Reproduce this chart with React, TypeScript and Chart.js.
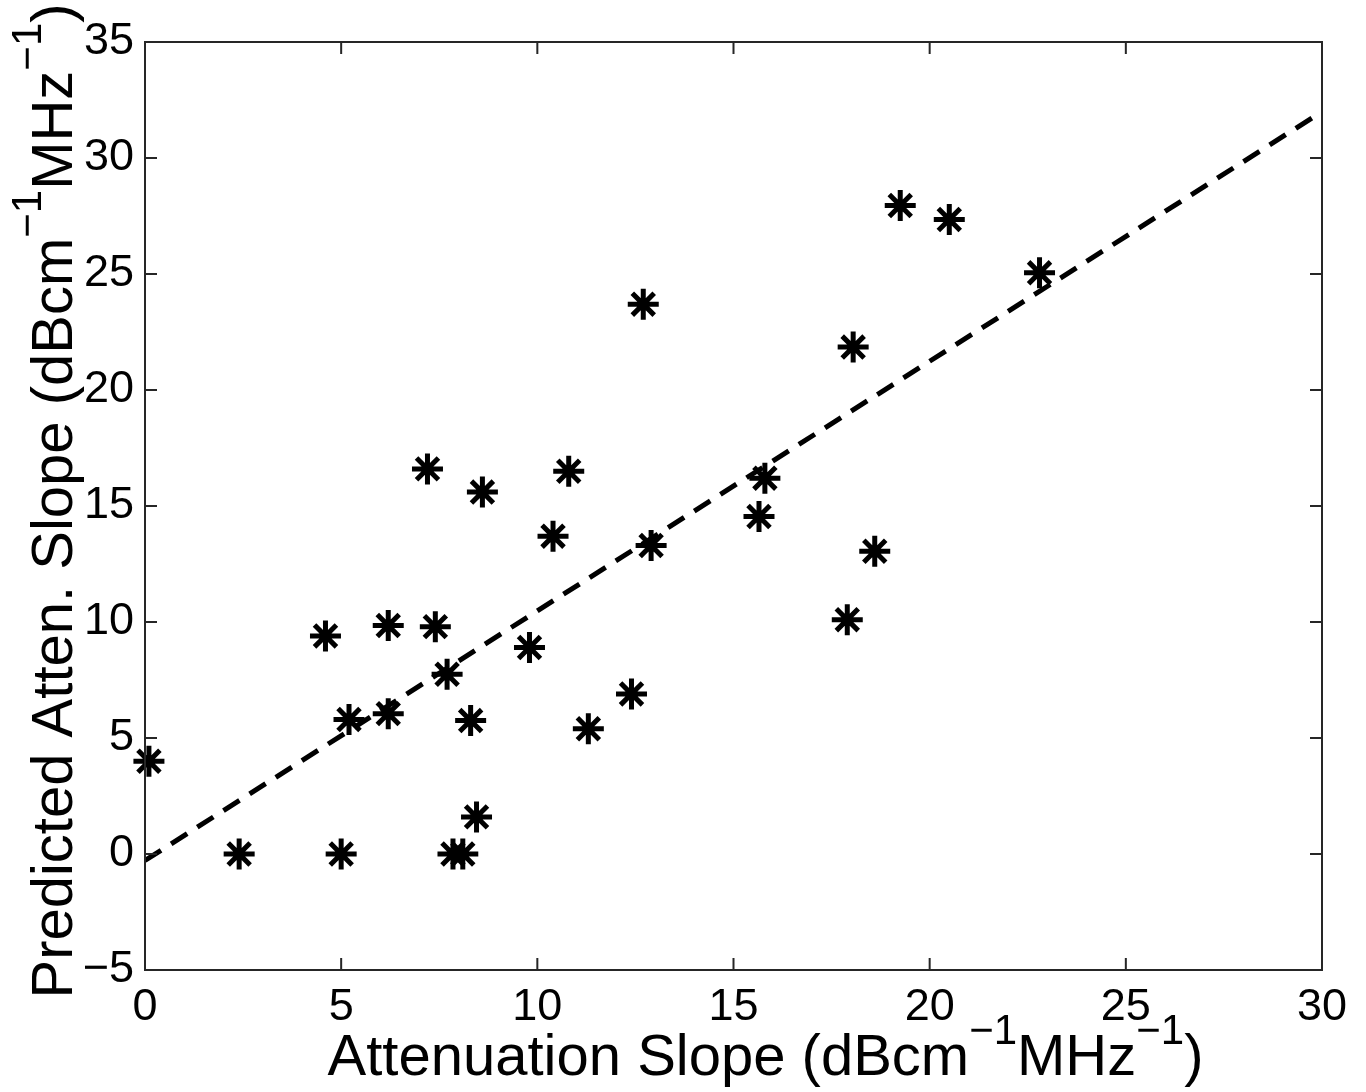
import React, { useEffect, useRef } from "react";
import { Chart, registerables } from "chart.js";

Chart.register(...registerables);

// Measured attenuation slope (x) vs predicted attenuation slope (y)
const measuredSlope = [0.1, 2.4, 5.0, 4.6, 5.2, 6.2, 6.2, 7.2, 7.4, 7.7, 7.85, 8.1, 8.3, 8.45, 8.6, 9.8, 10.4, 10.8, 11.3, 12.4, 12.7, 12.9, 15.65, 15.8, 17.9, 18.05, 18.6, 19.25, 20.5, 22.8];
const predictedSlope = [4.0, 0, 0, 9.4, 5.8, 9.85, 6.05, 16.6, 9.8, 7.75, 0, 0, 5.75, 1.6, 15.6, 8.9, 13.7, 16.5, 5.4, 6.9, 23.7, 13.3, 14.55, 16.2, 10.1, 21.85, 13.05, 27.95, 27.35, 25.05];

// Fitted regression line end points
const fitX = [0, 30];
const fitY = [-0.28, 32.0];

// Axis ticks
const xTicks = [0, 5, 10, 15, 20, 25, 30];
const yTicks = [-5, 0, 5, 10, 15, 20, 25, 30, 35];

type Seg = { t: string; sup?: boolean };
const xTitle: Seg[] = [
  { t: "Attenuation Slope (dBcm" },
  { t: "\u22121", sup: true },
  { t: "MHz" },
  { t: "\u22121", sup: true },
  { t: ")" },
];
const yTitle: Seg[] = [
  { t: "Predicted Atten. Slope (dBcm" },
  { t: "\u22121", sup: true },
  { t: "MHz" },
  { t: "\u22121", sup: true },
  { t: ")" },
];

const FONT = "'Liberation Sans', Arial, Helvetica, sans-serif";
const MAIN_SIZE = 58;
const SUP_SIZE = 42;
const SUP_RAISE = 31;

function richWidth(ctx: CanvasRenderingContext2D, segs: Seg[]) {
  let w = 0;
  for (const s of segs) {
    ctx.font = `${s.sup ? SUP_SIZE : MAIN_SIZE}px ${FONT}`;
    w += ctx.measureText(s.t).width;
  }
  return w;
}

function drawRich(ctx: CanvasRenderingContext2D, segs: Seg[], x: number, y: number) {
  let cx = x;
  ctx.textBaseline = "alphabetic";
  ctx.textAlign = "left";
  for (const s of segs) {
    ctx.font = `${s.sup ? SUP_SIZE : MAIN_SIZE}px ${FONT}`;
    ctx.fillText(s.t, cx, s.sup ? y - SUP_RAISE : y);
    cx += ctx.measureText(s.t).width;
  }
}

const framePlugin = {
  id: "matlabFrame",
  afterDraw(chart: any) {
    const { ctx, chartArea } = chart;
    const { left, right, top, bottom } = chartArea;
    const xs = chart.scales.x;
    const ys = chart.scales.y;
    ctx.save();
    ctx.strokeStyle = "#262626";
    ctx.lineWidth = 2;
    ctx.strokeRect(left, top, right - left, bottom - top);
    const tl = 12;
    ctx.beginPath();
    for (const v of xTicks) {
      const px = xs.getPixelForValue(v);
      ctx.moveTo(px, bottom);
      ctx.lineTo(px, bottom - tl);
      ctx.moveTo(px, top);
      ctx.lineTo(px, top + tl);
    }
    for (const v of yTicks) {
      const py = ys.getPixelForValue(v);
      ctx.moveTo(left, py);
      ctx.lineTo(left + tl, py);
      ctx.moveTo(right, py);
      ctx.lineTo(right - tl, py);
    }
    ctx.stroke();

    ctx.fillStyle = "#000";
    // x title
    const wx = richWidth(ctx, xTitle);
    const cx = (left + right) / 2 + 32;
    drawRich(ctx, xTitle, cx - wx / 2, bottom + 105);
    // y title
    const wy = richWidth(ctx, yTitle);
    const cy = (top + bottom) / 2 - 5;
    ctx.translate(72, cy);
    ctx.rotate(-Math.PI / 2);
    drawRich(ctx, yTitle, -wy / 2, 0);
    ctx.restore();
  },
};

export default function App() {
  const ref = useRef<HTMLCanvasElement | null>(null);
  useEffect(() => {
    document.body.style.margin = "0";
    document.body.style.overflow = "hidden";
    const canvas = ref.current;
    if (!canvas) return;
    const points = measuredSlope.map((x, i) => ({ x, y: predictedSlope[i] }));
    const fit = fitX.map((x, i) => ({ x, y: fitY[i] }));
    const chart = new Chart(canvas, {
      type: "scatter",
      data: {
        datasets: [
          {
            label: "data",
            data: points,
            pointStyle: "star",
            pointRadius: 15.5,
            pointHoverRadius: 15.5,
            borderColor: "#000",
            backgroundColor: "#000",
            pointBorderWidth: 5,
            borderWidth: 5,
            clip: false as any,
          },
          {
            type: "line" as any,
            label: "fit",
            data: fit,
            showLine: true,
            pointRadius: 0,
            borderColor: "#000",
            borderWidth: 5,
            borderDash: [19, 12],
            fill: false,
          } as any,
        ],
      },
      options: {
        responsive: false,
        animation: false,
        events: [],
        layout: { padding: { left: 0, top: 42, right: 44, bottom: 0 } },
        plugins: { legend: { display: false }, tooltip: { enabled: false }, title: { display: false } },
        scales: {
          x: {
            type: "linear",
            min: 0,
            max: 30,
            afterFit: (s: any) => {
              s.height = 122;
            },
            afterBuildTicks: (s: any) => {
              s.ticks = xTicks.map((v) => ({ value: v }));
            },
            grid: { display: false, drawTicks: false },
            border: { display: false },
            ticks: {
              autoSkip: false,
              maxRotation: 0,
              padding: 11,
              color: "#000",
              font: { family: FONT, size: 45 },
              callback: (v: any) => String(v).replace("-", "\u2212"),
            },
          },
          y: {
            type: "linear",
            min: -5,
            max: 35,
            afterFit: (s: any) => {
              s.width = 145;
            },
            afterBuildTicks: (s: any) => {
              s.ticks = yTicks.map((v) => ({ value: v }));
            },
            grid: { display: false, drawTicks: false },
            border: { display: false },
            ticks: {
              autoSkip: false,
              padding: 11,
              color: "#000",
              font: { family: FONT, size: 45 },
              callback: (v: any) => String(v).replace("-", "\u2212"),
            },
          },
        },
      },
      plugins: [framePlugin],
    });
    return () => chart.destroy();
  }, []);
  return <canvas ref={ref} width={1366} height={1092} style={{ display: "block" }} />;
}
